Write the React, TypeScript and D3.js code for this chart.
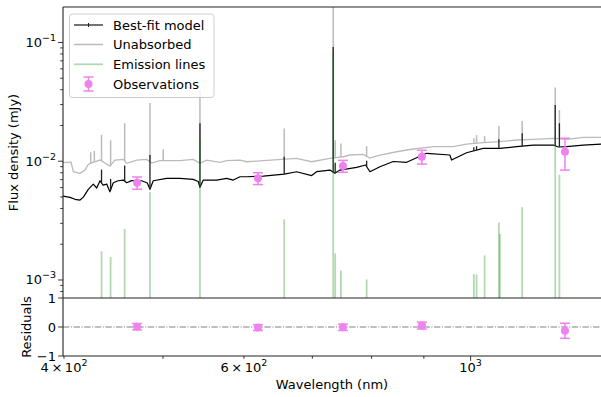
import React from "react";
import * as d3 from "d3";

// Best-fit (attenuated) continuum, wavelength in nm, flux in mJy
const bestFitWave = [399.1, 405.4, 410.0, 414.7, 417.8, 422.5, 427.3, 430.6, 433.8, 436.8, 440.4, 443.6, 447.0, 452.0, 457.2, 460.7, 465.9, 476.5, 482.6, 485.5, 489.1, 504.1, 519.4, 535.2, 541.3, 543.4, 547.5, 564.2, 577.1, 585.8, 594.7, 603.8, 626.7, 657.0, 675.6, 698.9, 706.8, 728.3, 736.5, 744.9, 773.4, 789.3, 797.0, 815.2, 840.0, 865.8, 905.6, 954.3, 958.0, 990.9, 1028.7, 1068.2, 1109.2, 1151.5, 1204.6, 1218.2, 1241.5, 1288.8, 1347.0];
const bestFitFlux = [0.00509, 0.00496, 0.00478, 0.00471, 0.00499, 0.0058, 0.00642, 0.00595, 0.00685, 0.0063, 0.00642, 0.00553, 0.00659, 0.00685, 0.00694, 0.00659, 0.00687, 0.00685, 0.00655, 0.0058, 0.00685, 0.00718, 0.00718, 0.00704, 0.00675, 0.00603, 0.00694, 0.00694, 0.00718, 0.00694, 0.0074, 0.0074, 0.0075, 0.0078, 0.00816, 0.00757, 0.00816, 0.00843, 0.00791, 0.00843, 0.00888, 0.00929, 0.00816, 0.00899, 0.00995, 0.00979, 0.01166, 0.01128, 0.01023, 0.01179, 0.01284, 0.01284, 0.01325, 0.01369, 0.01369, 0.01318, 0.01325, 0.01369, 0.01396];

// Unabsorbed continuum
const unabsWave = [399.1, 406.4, 408.5, 414.7, 419.4, 422.2, 424.1, 433.8, 443.6, 448.7, 457.2, 460.7, 471.2, 481.9, 487.4, 496.5, 519.4, 535.2, 543.4, 551.7, 568.5, 577.1, 594.7, 603.8, 626.7, 675.6, 698.9, 728.3, 750.4, 761.8, 785.1, 797.0, 815.2, 846.5, 872.2, 919.2, 961.4, 990.9, 1028.7, 1068.2, 1109.2, 1151.5, 1204.6, 1241.5, 1288.8, 1347.0];
const unabsFlux = [0.00974, 0.00983, 0.00816, 0.00791, 0.00843, 0.00929, 0.0096, 0.01023, 0.00911, 0.01023, 0.01037, 0.0096, 0.01023, 0.01037, 0.00966, 0.0101, 0.0101, 0.01037, 0.0096, 0.01023, 0.00979, 0.0101, 0.01023, 0.0099, 0.0101, 0.01058, 0.0099, 0.01058, 0.01091, 0.01128, 0.01143, 0.01064, 0.01128, 0.01202, 0.01255, 0.01325, 0.01325, 0.01396, 0.01432, 0.0146, 0.01509, 0.01529, 0.01559, 0.01529, 0.0159, 0.0159];

// Spectral lines: wavelength and peak fluxes in each curve (null = no visible spike)
const lineWave = [424.8, 428.3, 435.3, 444.3, 458.6, 485.5, 500.2, 543.4, 657.0, 733.7, 737.0, 746.6, 791.1, 1007.3, 1013.5, 1032.0, 1065.8, 1068.2, 1123.3, 1210.0, 1221.5];
const linePeakUnabs = [0.0119, 0.0122, 0.0167, 0.015, 0.0209, 0.0309, 0.0126, 0.0398, 0.0189, 0.3, 0.015, 0.0141, 0.0134, 0.0156, 0.0166, 0.0163, 0.0198, null, 0.0218, 0.0418, 0.027];
const linePeakBestFit = [null, null, 0.0085, 0.0071, 0.0092, 0.0113, null, 0.0209, 0.0109, 0.0916, 0.0097, 0.0096, 0.0101, 0.0131, 0.0134, 0.0129, 0.0153, null, 0.0172, 0.0298, 0.0209];
const linePeakEmission = [null, null, 0.00175, 0.00156, 0.00269, 0.0055, null, 0.0151, 0.00324, 0.083, 0.00167, 0.0012, 0.00101, 0.00112, 0.00111, 0.00161, 0.00304, 0.00244, 0.0041, 0.016, 0.0077];

// Observations
const obsWave = [471.6, 619.3, 750.0, 896.0, 1236.9];
const obsFlux = [0.00659, 0.00718, 0.00912, 0.01091, 0.01202];
const obsErr = [0.00078, 0.00082, 0.00105, 0.00145, 0.0036];
const residual = [0.01, -0.02, -0.01, 0.05, -0.13];
const residualErr = [0.11, 0.1, 0.11, 0.12, 0.26];

// Ticks
const yMajorTicks = [1e-3, 1e-2, 1e-1];
const yMajorExp = ["−3", "−2", "−1"];
const xLabeledTicks = [400, 600, 1000];
const xTickMantissa = ["4\u2009×\u200910", "6\u2009×\u200910", "10"];
const xTickExp = ["2", "2", "3"];
const resTicks = [-1, 0, 1];
const resTickLabels = ["−1", "0", "1"];

const VIOLET = "#ee82ee";

function baseAt(ws: number[], fs: number[], w: number) {
  const i = Math.max(1, Math.min(ws.length - 1, d3.bisectLeft(ws, w)));
  const t = (Math.log(w) - Math.log(ws[i - 1])) / (Math.log(ws[i]) - Math.log(ws[i - 1]));
  return Math.exp(Math.log(fs[i - 1]) + t * (Math.log(fs[i]) - Math.log(fs[i - 1])));
}

export default function App() {
  const W = 601, H = 397;
  const x0 = 63, x1 = 603;
  const yTop = 7, yMid = 298, yBot = 356;
  const x = d3.scaleLog().domain([399.1, 1347.6]).range([x0, x1]);
  const y = d3.scaleLog().domain([7.05e-4, 0.199]).range([yMid, yTop]);
  const yr = d3.scaleLinear().domain([-1, 1]).range([yBot, yMid]);

  const bestPath = d3.line<number>().x((_, i) => x(bestFitWave[i])).y((d) => y(d))(bestFitFlux) || "";
  const unabsPath = d3.line<number>().x((_, i) => x(unabsWave[i])).y((d) => y(d))(unabsFlux) || "";

  const yMinor: number[] = [];
  for (let k = -4; k <= -1; k++) {
    for (let m = 2; m <= 9; m++) {
      const v = m * Math.pow(10, k);
      if (v >= 7.05e-4 && v <= 0.199) yMinor.push(v);
    }
  }
  const xTicksAll = x.ticks().filter((v) => v >= 399.1 && v <= 1347.6);

  const font = "'DejaVu Sans', 'Liberation Sans', sans-serif";
  const fs = 13;

  return (
    <svg width={W} height={H} style={{ position: "fixed", left: 0, top: 0, display: "block", fontFamily: font }} fontFamily={font}>
      <defs>
        <clipPath id="mainClip">
          <rect x={x0} y={yTop} width={x1 - x0} height={yMid - yTop} />
        </clipPath>
        <clipPath id="resClip">
          <rect x={x0} y={yMid} width={x1 - x0} height={yBot - yMid} />
        </clipPath>
      </defs>
      <rect x={0} y={0} width={W} height={H} fill="#fff" />

      <g clipPath="url(#mainClip)">
        <path d={unabsPath} fill="none" stroke="#bbbbbb" strokeWidth={1.3} />
        {lineWave.map((w, i) =>
          linePeakUnabs[i] == null ? null : (
            <line key={"u" + i} x1={x(w)} x2={x(w)} y1={y(baseAt(unabsWave, unabsFlux, w))} y2={y(linePeakUnabs[i] as number)} stroke="#bbbbbb" strokeWidth={1.5} />
          )
        )}
        <path d={bestPath} fill="none" stroke="#000" strokeWidth={1.2} strokeLinejoin="round" />
        {lineWave.map((w, i) =>
          linePeakBestFit[i] == null ? null : (
            <line key={"b" + i} x1={x(w)} x2={x(w)} y1={y(baseAt(bestFitWave, bestFitFlux, w))} y2={y(linePeakBestFit[i] as number)} stroke="#222" strokeWidth={1.3} />
          )
        )}
        {lineWave.map((w, i) =>
          linePeakEmission[i] == null ? null : (
            <line key={"e" + i} x1={x(w)} x2={x(w)} y1={yMid + 2} y2={y(linePeakEmission[i] as number)} stroke="#008000" strokeOpacity={0.3} strokeWidth={1.8} />
          )
        )}
        {obsWave.map((w, i) => {
          const cx = x(w);
          const ylo = y(obsFlux[i] - obsErr[i]);
          const yhi = y(obsFlux[i] + obsErr[i]);
          return (
            <g key={"o" + i}>
              <line x1={cx} x2={cx} y1={ylo} y2={yhi} stroke={VIOLET} strokeWidth={1.5} />
              <line x1={cx - 5} x2={cx + 5} y1={ylo} y2={ylo} stroke={VIOLET} strokeWidth={1.5} />
              <line x1={cx - 5} x2={cx + 5} y1={yhi} y2={yhi} stroke={VIOLET} strokeWidth={1.5} />
              <circle cx={cx} cy={y(obsFlux[i])} r={4} fill={VIOLET} />
            </g>
          );
        })}
      </g>

      <g clipPath="url(#resClip)">
        <line x1={x0} x2={x1} y1={yr(0)} y2={yr(0)} stroke="#808080" strokeWidth={1} strokeDasharray="6.4,1.6,1,1.6" />
        {obsWave.map((w, i) => {
          const cx = x(w);
          const ylo = yr(residual[i] - residualErr[i]);
          const yhi = yr(residual[i] + residualErr[i]);
          return (
            <g key={"r" + i}>
              <line x1={cx} x2={cx} y1={ylo} y2={yhi} stroke={VIOLET} strokeWidth={1.5} />
              <line x1={cx - 5} x2={cx + 5} y1={ylo} y2={ylo} stroke={VIOLET} strokeWidth={1.5} />
              <line x1={cx - 5} x2={cx + 5} y1={yhi} y2={yhi} stroke={VIOLET} strokeWidth={1.5} />
              <circle cx={cx} cy={yr(residual[i])} r={4} fill={VIOLET} />
            </g>
          );
        })}
      </g>

      <g stroke="#222" strokeWidth={1.1} fill="none">
        <line x1={x0} x2={x0} y1={yTop} y2={yBot} />
        <line x1={x0} x2={W + 5} y1={yTop} y2={yTop} />
        <line x1={x0} x2={W + 5} y1={yMid} y2={yMid} />
        <line x1={x0} x2={W + 5} y1={yBot} y2={yBot} />
      </g>

      <g stroke="#222" strokeWidth={0.9}>
        {yMinor.map((v, i) => (
          <line key={"ym" + i} x1={x0 - 2.8} x2={x0} y1={y(v)} y2={y(v)} />
        ))}
        {yMajorTicks.map((v, i) => (
          <line key={"yM" + i} x1={x0 - 4.9} x2={x0} y1={y(v)} y2={y(v)} />
        ))}
        {resTicks.map((v, i) => (
          <line key={"rt" + i} x1={x0 - 4.9} x2={x0} y1={yr(v)} y2={yr(v)} />
        ))}
        {xTicksAll.map((v, i) => (
          <line key={"xt" + i} x1={x(v)} x2={x(v)} y1={yBot} y2={yBot + (v === 1000 ? 4.9 : 2.8)} />
        ))}
      </g>
      <g fontSize={fs} fill="#000">
        {yMajorTicks.map((v, i) => (
          <text key={"yl" + i} x={x0 - 7} y={y(v) + 4.5} textAnchor="end">
            10<tspan dy={-6} fontSize={9.5}>{yMajorExp[i]}</tspan>
          </text>
        ))}
        {resTicks.map((v, i) => (
          <text key={"rl" + i} x={x0 - 7} y={yr(v) + 4.5} textAnchor="end">
            {resTickLabels[i]}
          </text>
        ))}
        {xLabeledTicks.map((v, i) => (
          <text key={"xl" + i} x={x(v)} y={372} textAnchor="middle">
            {xTickMantissa[i]}<tspan dy={-6} fontSize={9.5}>{xTickExp[i]}</tspan>
          </text>
        ))}
        <text x={332} y={389} textAnchor="middle">Wavelength (nm)</text>
        <text transform={`translate(18,${(yTop + yMid) / 2}) rotate(-90)`} textAnchor="middle">Flux density (mJy)</text>
        <text transform={`translate(31,${(yMid + yBot) / 2}) rotate(-90)`} textAnchor="middle">Residuals</text>
      </g>

      <g>
        <rect x={69.5} y={14} width={144.5} height={83.5} rx={3} fill="#fff" fillOpacity={0.8} stroke="#cccccc" strokeWidth={1} />
        <line x1={74} x2={103} y1={25} y2={25} stroke="#444" strokeWidth={1.5} />
        <line x1={88.5} x2={88.5} y1={23} y2={27} stroke="#222" strokeWidth={1} />
        <line x1={74} x2={103} y1={44.5} y2={44.5} stroke="#bbbbbb" strokeWidth={1.5} />
        <line x1={74} x2={103} y1={64.3} y2={64.3} stroke="#008000" strokeOpacity={0.3} strokeWidth={1.8} />
        <line x1={88.5} x2={88.5} y1={77} y2={91} stroke={VIOLET} strokeWidth={1.5} />
        <line x1={83.5} x2={93.5} y1={77} y2={77} stroke={VIOLET} strokeWidth={1.5} />
        <line x1={83.5} x2={93.5} y1={91} y2={91} stroke={VIOLET} strokeWidth={1.5} />
        <circle cx={88.5} cy={84} r={4} fill={VIOLET} />
        <g fontSize={fs} fill="#000">
          <text x={113} y={29.5}>Best-fit model</text>
          <text x={113} y={49}>Unabsorbed</text>
          <text x={113} y={68.8}>Emission lines</text>
          <text x={113} y={88.8}>Observations</text>
        </g>
      </g>
    </svg>
  );
}
